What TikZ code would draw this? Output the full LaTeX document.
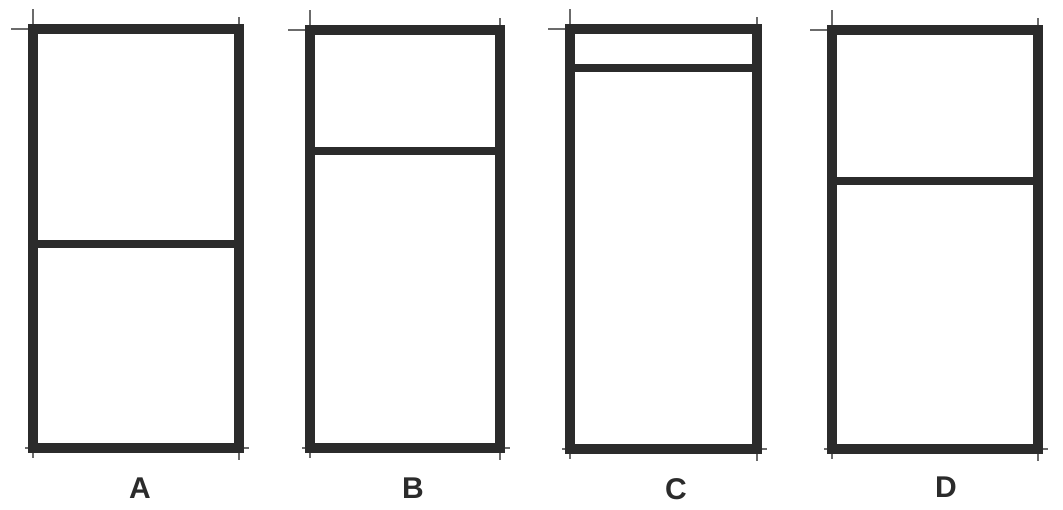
\documentclass[tikz,border=0pt]{standalone}
\usepackage{fontspec}
\setmainfont{Liberation Sans}
\definecolor{ink}{HTML}{2B2B2B}
\tikzset{
  frame/.style={draw=ink, line width=10pt, line join=miter},
  divider/.style={draw=ink, line width=7.5pt},
  tick/.style={draw=ink!70, line width=1.2pt},
  lbl/.style={text=ink, font=\bfseries\fontsize{30}{30}\selectfont}
}
\newcommand{\panel}[5]{% left right top bottom divider
  \draw[tick] (#1,#3-20) -- (#1,#3);
  \draw[tick] (#1-22,#3) -- (#1,#3);
  \draw[tick] (#2,#3-12) -- (#2,#3);
  \draw[tick] (#1-8,#4) -- (#2+10,#4);
  \draw[tick] (#1,#4) -- (#1,#4+10);
  \draw[tick] (#2,#4) -- (#2,#4+12);
  \draw[frame] (#1,#3) rectangle (#2,#4);
  \draw[divider] (#1,#5) -- (#2,#5);
}
\begin{document}
\begin{tikzpicture}[x=1pt,y=-1pt]
\useasboundingbox (0,0) rectangle (1063,509);
\fill[white] (0,0) rectangle (1063,509);
\panel{33}{239}{29}{448}{244}
\panel{310}{500}{30}{448}{151}
\panel{570}{757}{29}{449}{68}
\panel{832}{1038}{30}{449}{181}
\node[lbl] (la) at (140,488) {A};
\node[lbl] (lb) at (413,488) {B};
\node[lbl] (lc) at (676,489) {C};
\node[lbl] (ld) at (946,487) {D};
\end{tikzpicture}
\end{document}
